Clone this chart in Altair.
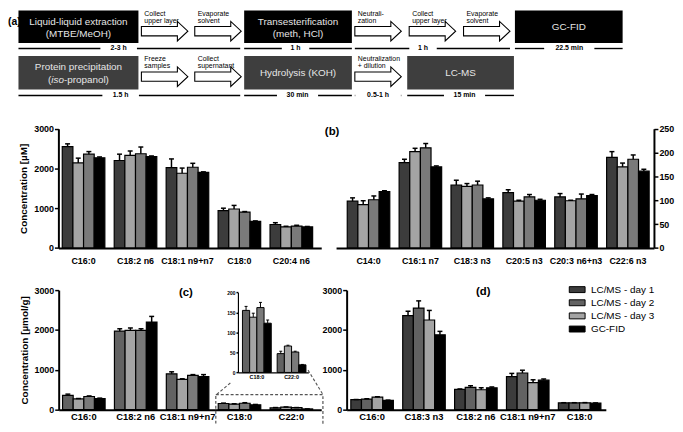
import altair as alt
import pandas as pd

W, H = 675, 416
FONT = "Liberation Sans"
SERIES = ["LC/MS - day 1", "LC/MS - day 2", "LC/MS - day 3", "GC-FID"]

# ---------------- data ----------------
A_GROUPS = ["C16:0", "C18:2 n6", "C18:1 n9+n7", "C18:0", "C20:4 n6"]
A_DAY1 = [2550, 2200, 2020, 940, 590]
A_DAY2 = [2140, 2330, 1880, 980, 530]
A_DAY3 = [2360, 2370, 2030, 900, 550]
A_GC = [2270, 2300, 1900, 670, 530]
A_ERR1 = [70, 160, 220, 60, 45]
A_ERR2 = [120, 110, 130, 90, 15]
A_ERR3 = [65, 170, 100, 15, 20]
A_ERRGC = [20, 15, 15, 10, 10]

B_GROUPS = ["C14:0", "C16:1 n7", "C18:3 n3", "C20:5 n3", "C20:3 n6+n3", "C22:6 n3"]
B_DAY1 = [98, 179, 132, 116, 107, 190]
B_DAY2 = [91, 202, 129, 98, 99, 170]
B_DAY3 = [101, 210, 132, 107, 103, 186]
B_GC = [118, 170, 103, 100, 110, 161]
B_ERR1 = [7, 7, 10, 6, 7, 12]
B_ERR2 = [8, 7, 6, 2, 1, 8]
B_ERR3 = [8, 9, 8, 5, 10, 9]
B_ERRGC = [2, 2, 2, 2, 2, 4]

C_GROUPS = ["C16:0", "C18:2 n6", "C18:1 n9+n7", "C18:0", "C22:0"]
C_DAY1 = [360, 1970, 900, 155, 47]
C_DAY2 = [270, 1990, 760, 138, 66]
C_DAY3 = [330, 1990, 860, 162, 51]
C_GC = [280, 2200, 830, 123, 19]
C_ERR1 = [30, 60, 50, 10, 6]
C_ERR2 = [10, 60, 15, 10, 2]
C_ERR3 = [15, 40, 20, 13, 2]
C_ERRGC = [10, 140, 50, 8, 1]
INSET_GROUPS = ["C18:0", "C22:0"]

D_GROUPS = ["C16:0", "C18:3 n3", "C18:2 n6", "C18:1 n9+n7", "C18:0"]
D_DAY1 = [250, 2360, 510, 830, 170]
D_DAY2 = [265, 2550, 560, 920, 170]
D_DAY3 = [315, 2250, 500, 680, 172]
D_GC = [235, 1880, 550, 740, 165]
D_ERR1 = [5, 110, 10, 80, 5]
D_ERR2 = [10, 180, 40, 70, 5]
D_ERR3 = [10, 240, 50, 70, 5]
D_ERRGC = [5, 85, 20, 30, 5]

Y_TICKS_CONC = [0, 1000, 2000, 3000]
Y_TICKS_B = [0, 50, 100, 150, 200, 250]
Y_TICKS_INSET = [0, 50, 100, 150, 200]

# flow-chart texts
ROW1_BOX_TEXT = [["Liquid-liquid extraction", "(MTBE/MeOH)"], ["Transesterification", "(meth, HCl)"], ["GC-FID"]]
ROW2_BOX_TEXT = [["Protein precipitation", None], ["Hydrolysis (KOH)"], ["LC-MS"]]
ROW1_ARROW_TEXT = [["Collect", "upper layer"], ["Evaporate", "solvent"], ["Neutrali-", "zation"],
                   ["Collect", "upper layer"], ["Evaporate", "solvent"]]
ROW2_ARROW_TEXT = [["Freeze", "samples"], ["Collect", "supernatant"], ["Neutralization", "+ dilution"]]
ROW1_TIMES = ["2-3 h", "1 h", "1 h", "22.5 min"]
ROW2_TIMES = ["1.5 h", "30 min", "0.5-1 h", "15 min"]

# ---------------- layout (pixels of the figure) ----------------
BOX1_X = [(10.6, 132), (239, 348), (513, 622)]
BOX2_X = [(10.6, 132), (239, 348), (404, 512)]
ROW1_Y, ROW2_Y = (0, 33), (46, 80)
ARROW1_X = [135, 189, 351, 406, 461]
ARROW2_X = [135, 189, 351]
ARROW_W = 47
TIME1 = [(10.6, 235, 112), (239, 348, 291), (351, 508, 420), (513, 622, 568)]
TIME2 = [(10.6, 235, 114), (239, 348, 293), (351, 398, 374.5), (404, 512, 462)]
TIME_Y = (38.5, 86)


def long_df(groups, vals, errs):
    rows = []
    for s, vv, ee in zip(SERIES, vals, errs):
        for g, v, e in zip(groups, vv, ee):
            rows.append({"group": g, "series": s, "value": v, "top": v + e})
    return pd.DataFrame(rows)


def bar_panel(df, groups, xr, align, pin, pout, yr, ydom, yvals, fills, yorient, yoffset,
              xoffset, ytitle=None, font=9, xfont=9, xlabpad=8, ticksize=4, domw=2,
              capsize=5, legend=None, strokew=1.2, errw=1.5, titlepad=3):
    xaxis = alt.Axis(orient="bottom", offset=xoffset, title=None, labelAngle=0, ticks=False,
                     domainWidth=domw, domainColor="black", labelFont=FONT,
                     labelFontWeight="bold", labelFontSize=xfont, labelColor="black",
                     labelPadding=xlabpad, labelOverlap=False)
    xs = alt.Scale(domain=groups, range=xr, paddingInner=pin, paddingOuter=pout, align=align)
    X = alt.X("group:N", scale=xs, axis=xaxis, sort=groups)
    XO = alt.XOffset("series:N", scale=alt.Scale(domain=SERIES, paddingInner=0, paddingOuter=0),
                     sort=SERIES)
    yaxis_kw = dict(orient=yorient, offset=yoffset, values=yvals, grid=False, format="d",
                    domainWidth=domw, domainColor="black", tickColor="black",
                    tickWidth=1.5, tickSize=ticksize, labelFont=FONT, labelFontWeight="bold",
                    labelFontSize=font, labelColor="black", labelPadding=1)
    if ytitle:
        yaxis_kw.update(title=ytitle, titleFont=FONT, titleFontWeight="bold", titleFontSize=10,
                        titleColor="black", titlePadding=titlepad)
    else:
        yaxis_kw.update(title=None)
    ys = alt.Scale(domain=ydom, range=yr, nice=False, zero=True)
    fill_kw = {"legend": legend} if legend is not None else {"legend": None}
    bars = alt.Chart(df).mark_bar(stroke="black", strokeWidth=strokew, opacity=1).encode(
        x=X, xOffset=XO,
        y=alt.Y("value:Q", scale=ys, axis=alt.Axis(**yaxis_kw)),
        fill=alt.Fill("series:N", scale=alt.Scale(domain=SERIES, range=fills), sort=SERIES, **fill_kw),
    )
    errs = alt.Chart(df).mark_rule(color="black", strokeWidth=errw).encode(
        x=X, xOffset=XO, y=alt.Y("value:Q", scale=ys, axis=alt.Axis(**yaxis_kw)), y2="top:Q")
    caps = alt.Chart(df).mark_tick(color="black", thickness=errw, size=capsize,
                                   orient="horizontal", opacity=1).encode(
        x=X, xOffset=XO, y=alt.Y("top:Q", scale=ys, axis=alt.Axis(**yaxis_kw)))
    return alt.layer(bars, errs, caps)


FILLS_AB = ["#3c3c3c", "#a4a4a4", "#7a7a7a", "#000000"]
FILLS_C = ["#626262", "#a4a4a4", "#7a7a7a", "#000000"]
FILLS_D = ["#3c3c3c", "#626262", "#a4a4a4", "#000000"]

dfA = long_df(A_GROUPS, [A_DAY1, A_DAY2, A_DAY3, A_GC], [A_ERR1, A_ERR2, A_ERR3, A_ERRGC])
dfB = long_df(B_GROUPS, [B_DAY1, B_DAY2, B_DAY3, B_GC], [B_ERR1, B_ERR2, B_ERR3, B_ERRGC])
dfC = long_df(C_GROUPS, [C_DAY1, C_DAY2, C_DAY3, C_GC], [C_ERR1, C_ERR2, C_ERR3, C_ERRGC])
dfI = dfC[dfC["group"].isin(INSET_GROUPS)].reset_index(drop=True)
dfD = long_df(D_GROUPS, [D_DAY1, D_DAY2, D_DAY3, D_GC], [D_ERR1, D_ERR2, D_ERR3, D_ERRGC])

panelA = bar_panel(dfA, A_GROUPS, [51, 317], 0.31, 0.18, 0.12, [240.3, 119.7], [0, 3000],
                   Y_TICKS_CONC, FILLS_AB, "left", -51, 240.3 - H,
                   ytitle="Concentration [µM]", xlabpad=9, titlepad=5)
panelB = bar_panel(dfB, B_GROUPS, [332, 653.7], 0.7, 0.18, 0.154, [240.3, 119.7], [0, 250],
                   Y_TICKS_B, FILLS_AB, "right", 653.7 - W, 240.3 - H, xlabpad=9)
panelC = bar_panel(dfC, C_GROUPS, [51.3, 317], 0.31, 0.18, 0.12, [404, 283], [0, 3000],
                   Y_TICKS_CONC, FILLS_C, "left", -51.3, 404 - H,
                   ytitle="Concentration [µmol/g]", xfont=9.5, xlabpad=2, titlepad=5)
inset = bar_panel(dfI, INSET_GROUPS, [232.7, 304], 0.65, 0.17, 0.1, [366.3, 285.3], [0, 200],
                  Y_TICKS_INSET, FILLS_C, "left", -232.7, 366.3 - H, font=5, xfont=5.5,
                  xlabpad=2, ticksize=2, domw=1.2, capsize=3, strokew=1, errw=1)
legendD = alt.Legend(orient="none", legendX=570.5, legendY=277, title=None,
                     symbolType="M-1.6,-0.6H1.6V0.6H-1.6Z", symbolSize=100,
                     symbolStrokeColor="black", symbolStrokeWidth=1, symbolOpacity=1,
                     labelFont=FONT, labelFontSize=10, labelColor="black", labelOffset=8.5,
                     rowPadding=2.3, padding=0)
panelD = bar_panel(dfD, D_GROUPS, [342.7, 605], 0.46, 0.18, 0.088, [404, 283], [0, 3000],
                   Y_TICKS_CONC, FILLS_D, "left", -342.7, 404 - H, xfont=9.5, xlabpad=2,
                   legend=legendD)

# ---------------- flow chart / annotations canvas ----------------
CX = alt.Scale(domain=[0, W], range=[0, W])
CY = alt.Scale(domain=[0, H], range=[0, H])


def cx(f):
    return alt.X(f, scale=CX, axis=None)


def cy(f):
    return alt.Y(f, scale=CY, axis=None)


box1 = pd.DataFrame([{"x": a, "x2": b, "y": ROW1_Y[0], "y2": ROW1_Y[1]} for a, b in BOX1_X])
box2 = pd.DataFrame([{"x": a, "x2": b, "y": ROW2_Y[0], "y2": ROW2_Y[1]} for a, b in BOX2_X])
rect1 = alt.Chart(box1).mark_rect(color="#000000").encode(x=cx("x:Q"), x2="x2:Q", y=cy("y:Q"), y2="y2:Q")
rect2 = alt.Chart(box2).mark_rect(color="#3e3e3e").encode(x=cx("x:Q"), x2="x2:Q", y=cy("y:Q"), y2="y2:Q")

r2 = ROW2_Y[0]
box_txt = []
for (a, b), lines in zip(BOX1_X, ROW1_BOX_TEXT):
    mid = (a + b) / 2
    if len(lines) == 2:
        box_txt += [{"x": mid, "y": 11.5, "t": lines[0]}, {"x": mid, "y": 24, "t": lines[1]}]
    else:
        box_txt += [{"x": mid, "y": 17, "t": lines[0]}]
for (a, b), lines in zip(BOX2_X, ROW2_BOX_TEXT):
    mid = (a + b) / 2
    if len(lines) == 2:
        box_txt += [{"x": mid, "y": r2 + 11.5, "t": lines[0]}]
    else:
        box_txt += [{"x": mid, "y": r2 + 17, "t": lines[0]}]
boxtext = alt.Chart(pd.DataFrame(box_txt)).mark_text(
    font=FONT, fontSize=10, color="#e6e6e6", baseline="middle", align="center").encode(
    x=cx("x:Q"), y=cy("y:Q"), text="t:N")

# "(iso-propanol)" with italic "iso"
mid0 = (BOX2_X[0][0] + BOX2_X[0][1]) / 2
fs = 10.0
w_open, w_iso, w_rest = 0.333 * fs, 1.278 * fs, 4.557 * fs
start = mid0 - (w_open + w_iso + w_rest) / 2
iso_parts = pd.DataFrame([{"x": start, "y": r2 + 24, "t": "("},
                          {"x": start + w_open + w_iso, "y": r2 + 24, "t": "-propanol)"}])
iso_plain = alt.Chart(iso_parts).mark_text(font=FONT, fontSize=fs, color="#e6e6e6",
                                           baseline="middle", align="left").encode(
    x=cx("x:Q"), y=cy("y:Q"), text="t:N")
iso_ital = alt.Chart(pd.DataFrame([{"x": start + w_open, "y": r2 + 24, "t": "iso"}])).mark_text(
    font=FONT, fontSize=fs, fontStyle="italic", color="#e6e6e6", baseline="middle",
    align="left").encode(x=cx("x:Q"), y=cy("y:Q"), text="t:N")

ARROW_PATH = "M-1,-0.2H0.55V-0.42L1,0L0.55,0.42V0.2H-1Z"
arr = pd.DataFrame([{"x": a + ARROW_W / 2, "y": ROW1_Y[0] + 21} for a in ARROW1_X] +
                   [{"x": a + ARROW_W / 2, "y": ROW2_Y[0] + 21} for a in ARROW2_X])
arrows = alt.Chart(arr).mark_point(shape=ARROW_PATH, size=ARROW_W ** 2, filled=True,
                                   fill="white", stroke="black", strokeWidth=1.1,
                                   opacity=1).encode(x=cx("x:Q"), y=cy("y:Q"))
arr_txt = []
for a, lines in zip(ARROW1_X, ROW1_ARROW_TEXT):
    arr_txt += [{"x": a + 3, "y": ROW1_Y[0] + 3.5, "t": lines[0]},
                {"x": a + 3, "y": ROW1_Y[0] + 10.5, "t": lines[1]}]
for a, lines in zip(ARROW2_X, ROW2_ARROW_TEXT):
    arr_txt += [{"x": a + 3, "y": ROW2_Y[0] + 3.5, "t": lines[0]},
                {"x": a + 3, "y": ROW2_Y[0] + 10.5, "t": lines[1]}]
arrowtext = alt.Chart(pd.DataFrame(arr_txt)).mark_text(
    font=FONT, fontSize=7, color="black", baseline="middle", align="left").encode(
    x=cx("x:Q"), y=cy("y:Q"), text="t:N")

seg, ttxt = [], []
for row, yy, labels in ((TIME1, TIME_Y[0], ROW1_TIMES), (TIME2, TIME_Y[1], ROW2_TIMES)):
    for (a, b, m), lab in zip(row, labels):
        half = len(lab) * 2.3 + 7
        seg += [{"x": a, "x2": max(a, m - half), "y": yy}, {"x": min(b, m + half), "x2": b, "y": yy}]
        ttxt.append({"x": m, "y": yy, "t": lab})
timelines = alt.Chart(pd.DataFrame(seg)).mark_rule(color="black", strokeWidth=1.4).encode(
    x=cx("x:Q"), x2="x2:Q", y=cy("y:Q"))
timetext = alt.Chart(pd.DataFrame(ttxt)).mark_text(
    font=FONT, fontSize=7, fontWeight="bold", color="black", baseline="middle",
    align="center").encode(x=cx("x:Q"), y=cy("y:Q"), text="t:N")

letters_c = alt.Chart(pd.DataFrame([
    {"x": 328, "y": 123, "t": "(b)"},
    {"x": 180, "y": 286, "t": "(c)"}, {"x": 481, "y": 285, "t": "(d)"}])).mark_text(
    font=FONT, fontSize=11.5, fontWeight="bold", color="black", baseline="middle",
    align="center").encode(x=cx("x:Q"), y=cy("y:Q"), text="t:N")
letter_a = alt.Chart(pd.DataFrame([{"x": 0, "y": 12, "t": "(a)"}])).mark_text(
    font=FONT, fontSize=10.5, fontWeight="bold", color="black", baseline="middle",
    align="left").encode(x=cx("x:Q"), y=cy("y:Q"), text="t:N")

zoombox = alt.Chart(pd.DataFrame([{"x": 210.3, "x2": 318.7, "y": 388.7, "y2": 425}])).mark_rect(
    fillOpacity=0, stroke="#555555", strokeWidth=1.2, strokeDash=[3, 2]).encode(
    x=cx("x:Q"), x2="x2:Q", y=cy("y:Q"), y2="y2:Q")
connect = alt.Chart(pd.DataFrame([{"x": 225, "y": 377, "x2": 211, "y2": 388.7},
                                  {"x": 303.7, "y": 364, "x2": 318.7, "y2": 388.7}])).mark_rule(
    color="#555555", strokeWidth=1.1, strokeDash=[3, 2]).encode(
    x=cx("x:Q"), y=cy("y:Q"), x2="x2:Q", y2="y2:Q")

canvas = alt.layer(rect1, rect2, boxtext, iso_plain, iso_ital, arrows, arrowtext, timelines,
                   timetext, letters_c, letter_a, zoombox, connect)

chart = alt.layer(canvas, panelA, panelB, panelC, inset, panelD).resolve_scale(
    x="independent", y="independent", xOffset="independent", fill="independent"
).properties(width=W, height=H, autosize=alt.AutoSizeParams(type="none"), padding=0
).configure_view(stroke=None)

chart.save("out.html", embed_options={"renderer": "svg", "actions": False})
